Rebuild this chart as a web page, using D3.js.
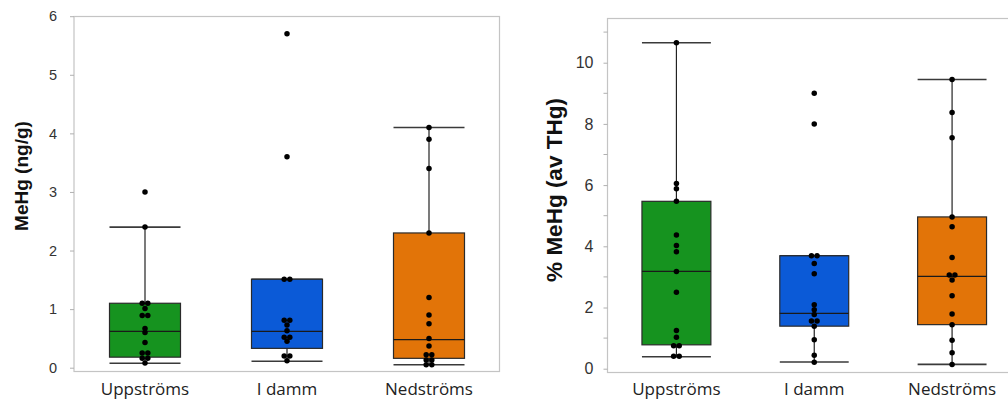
<!DOCTYPE html>
<html>
<head>
<meta charset="utf-8">
<script src="https://cdn.jsdelivr.net/npm/d3@7"></script>
<style>
  html, body { margin: 0; padding: 0; background: #fff; }
  svg { display: block; }
</style>
</head>
<body>
<svg id="chart" width="1008" height="401"></svg>
<script>
// ---- Data ----
const categories = ["Uppströms", "I damm", "Nedströms"];
const boxColors = ["#16931f", "#0b5ad7", "#e27408"];

// MeHg (ng/g), individual samples per site
const mehgUpp  = [3.0, 2.4, 1.10, 1.10, 1.01, 0.89, 0.89, 0.67, 0.60, 0.43, 0.25, 0.25, 0.16, 0.16, 0.08];
const mehgDamm = [5.7, 3.6, 1.51, 1.51, 0.81, 0.81, 0.73, 0.63, 0.52, 0.52, 0.45, 0.20, 0.20, 0.12];
const mehgNed  = [4.1, 3.9, 3.4, 2.3, 1.2, 0.9, 0.75, 0.50, 0.37, 0.22, 0.22, 0.13, 0.13, 0.05, 0.05];
// box statistics: [lower whisker, Q1, median, Q3, upper whisker]
const mehgBoxUpp  = [0.075, 0.18, 0.62, 1.10, 2.40];
const mehgBoxDamm = [0.11, 0.33, 0.62, 1.51, 1.51];
const mehgBoxNed  = [0.05, 0.16, 0.48, 2.30, 4.10];
const mehgTicks = [0, 1, 2, 3, 4, 5, 6];

// % MeHg of total Hg, individual samples per site
const pctUpp  = [10.65, 6.05, 5.88, 5.47, 4.37, 4.03, 3.82, 3.18, 2.50, 1.25, 1.03, 0.75, 0.75, 0.41, 0.41];
const pctDamm = [9.0, 8.0, 3.69, 3.69, 3.44, 3.10, 2.09, 1.93, 1.77, 1.56, 1.56, 1.39, 0.95, 0.44, 0.21];
const pctNed  = [9.45, 8.37, 7.55, 4.96, 4.64, 3.63, 3.06, 3.06, 2.90, 2.38, 1.79, 1.44, 0.93, 0.52, 0.14];
const pctBoxUpp  = [0.39, 0.78, 3.18, 5.47, 10.65];
const pctBoxDamm = [0.22, 1.39, 1.81, 3.69, 3.69];
const pctBoxNed  = [0.14, 1.44, 3.02, 4.96, 9.45];
const pctTicks = [0, 2, 4, 6, 8, 10];
const pctMinorTicks = [1, 3, 5, 7, 9, 11];

// ---- Drawing ----
const svg = d3.select("#chart");

// spread coincident samples sideways so each dot stays visible
function swarm(values, y, cx, step) {
  const pts = values.map(v => ({ v, py: y(v) })).sort((a, b) => a.py - b.py);
  const groups = [];
  pts.forEach(p => {
    const g = groups[groups.length - 1];
    if (g && p.py - g[g.length - 1].py < 2.5) g.push(p); else groups.push([p]);
  });
  groups.forEach(g => g.forEach((p, i) => { p.px = cx + (i - (g.length - 1) / 2) * step; }));
  return pts;
}

function drawPanel(cfg) {
  const g = svg.append("g");
  const x = d3.scaleBand().domain(categories).range([cfg.x0, cfg.x1]).padding(0);
  const y = d3.scaleLinear().domain(cfg.domain).range(cfg.yRange);
  const bw = x.bandwidth() * 0.5;

  // frame
  g.append("rect")
    .attr("x", cfg.x0).attr("y", cfg.frameTop)
    .attr("width", cfg.frameRight - cfg.x0).attr("height", cfg.frameBottom - cfg.frameTop)
    .attr("fill", "none").attr("stroke", "#c4c4c4").attr("stroke-width", 1.2);

  // y axis
  const axis = d3.axisLeft(y).tickValues(cfg.ticks).tickFormat(d3.format("d"))
    .tickSize(4).tickPadding(cfg.tickPad);
  const ag = g.append("g").attr("transform", `translate(${cfg.x0},0)`).call(axis);
  ag.select(".domain").remove();
  ag.selectAll(".tick line").attr("stroke", "#b0b0b0");
  ag.selectAll(".tick text")
    .attr("fill", "#333")
    .style("font-family", "'Liberation Sans', Arial, sans-serif")
    .style("font-size", cfg.tickFont + "px");
  if (cfg.minorTicks) {
    g.selectAll(".minor").data(cfg.minorTicks).join("line")
      .attr("x1", cfg.x0 - 4).attr("x2", cfg.x0)
      .attr("y1", d => y(d)).attr("y2", d => y(d))
      .attr("stroke", "#b0b0b0");
  }

  // y axis title
  g.append("text")
    .attr("transform", `translate(${cfg.titleX},${cfg.titleY}) rotate(-90)`)
    .attr("text-anchor", "middle")
    .style("font-family", "'Liberation Sans', Arial, sans-serif")
    .style("font-weight", "bold")
    .style("font-size", cfg.titleFont + "px")
    .attr("fill", "#111")
    .text(cfg.title);

  // category labels
  g.selectAll(".cat").data(categories).join("text")
    .attr("x", d => x(d) + x.bandwidth() / 2)
    .attr("y", cfg.catY)
    .attr("text-anchor", "middle")
    .style("font-family", "'Open Sans', 'DejaVu Sans', sans-serif")
    .style("font-size", "17px")
    .attr("fill", "#222")
    .text(d => d);

  categories.forEach((cat, i) => {
    const [lo, q1, med, q3, hi] = cfg.boxes[i];
    const cx = x(cat) + x.bandwidth() / 2;
    const left = cx - bw / 2, right = cx + bw / 2;

    // whiskers
    g.append("line").attr("x1", cx).attr("x2", cx).attr("y1", y(q3)).attr("y2", y(hi))
      .attr("stroke", "#222").attr("stroke-width", 1.2);
    g.append("line").attr("x1", cx).attr("x2", cx).attr("y1", y(q1)).attr("y2", y(lo))
      .attr("stroke", "#222").attr("stroke-width", 1.2);
    [lo, hi].forEach(v => {
      g.append("line").attr("x1", left).attr("x2", right).attr("y1", y(v)).attr("y2", y(v))
        .attr("stroke", "#3a3a3a").attr("stroke-width", 1.6);
    });

    // box
    g.append("rect")
      .attr("x", left).attr("y", y(q3))
      .attr("width", bw).attr("height", y(q1) - y(q3))
      .attr("fill", boxColors[i]).attr("stroke", "#2a2a2a").attr("stroke-width", 1.2);
    g.append("line").attr("x1", left).attr("x2", right).attr("y1", y(med)).attr("y2", y(med))
      .attr("stroke", "#1a1a1a").attr("stroke-width", 1.3);

    // samples
    const pts = swarm(cfg.values[i], y, cx, 5.6);
    g.selectAll(null).data(pts).join("circle")
      .attr("cx", d => d.px).attr("cy", d => d.py)
      .attr("r", 2.75).attr("fill", "#000");
  });
}

drawPanel({
  x0: 74, x1: 500, frameRight: 499.5, frameTop: 16.5, frameBottom: 371.5,
  domain: [0, 6], yRange: [367.7, 16.2],
  ticks: mehgTicks, tickFont: 14.5, tickPad: 13,
  title: "MeHg (ng/g)", titleX: 28, titleY: 176, titleFont: 19,
  catY: 394.5,
  values: [mehgUpp, mehgDamm, mehgNed],
  boxes: [mehgBoxUpp, mehgBoxDamm, mehgBoxNed]
});

drawPanel({
  x0: 607.5, x1: 1021, frameRight: 1030, frameTop: 18.5, frameBottom: 372.5,
  domain: [0, 10], yRange: [368.7, 62.7],
  ticks: pctTicks, minorTicks: pctMinorTicks, tickFont: 16, tickPad: 10,
  title: "% MeHg (av THg)", titleX: 562, titleY: 190, titleFont: 22.5,
  catY: 395,
  values: [pctUpp, pctDamm, pctNed],
  boxes: [pctBoxUpp, pctBoxDamm, pctBoxNed]
});
</script>
</body>
</html>
